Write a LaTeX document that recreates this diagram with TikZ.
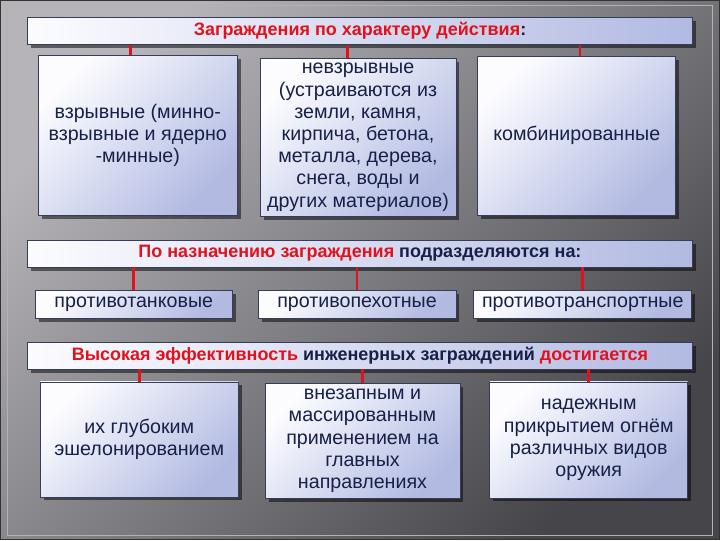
\documentclass[tikz,border=0pt]{standalone}
\usepackage{fontspec}
\setmainfont{Liberation Sans}
\usetikzlibrary{shadows}
\definecolor{fundal1}{RGB}{182,180,184}
\definecolor{fundal2}{RGB}{70,70,74}
\definecolor{cutie1}{RGB}{252,252,255}
\definecolor{cutie2}{RGB}{178,186,226}
\definecolor{scris}{RGB}{22,32,72}
\definecolor{rosu}{RGB}{226,18,28}

\begin{document}
\begin{tikzpicture}[x=0.025cm,y=-0.025cm,
  cutie/.style={draw=scris!70!gray,line width=0.5pt,
    top color=cutie1,bottom color=cutie2,shading angle=45,
    drop shadow={shadow xshift=2.5pt,shadow yshift=-2.5pt,opacity=0.5,fill=black},
    text=scris,align=center,inner sep=1pt,
    font=\fontsize{14}{15.8}\selectfont},
  titlu/.style={cutie,left color=cutie1,right color=cutie2,
    minimum width=16.65cm,minimum height=0.675cm,
    font=\bfseries\fontsize{12.8}{14}\selectfont},
  legatura/.style={rosu,line width=2pt}]
  % fundal
  \shade[top color=fundal1,bottom color=fundal2,shading angle=45] (0,0) rectangle (720,540);
  \draw[black!80,line width=0.6pt] (0,0) rectangle (720,540);
  \draw[gray!60!white,line width=0.4pt] (7,5) rectangle (713,535);

  % primul rand
  \node[titlu] (h1) at (360,30.5) {\textcolor{rosu}{Заграждения по характеру действия}:};
  \node[cutie,minimum width=4.975cm,minimum height=4cm] (a1) at (137.5,135)
    {взрывные (минно-\\взрывные и ядерно\\-минные)};
  \node[cutie,minimum width=4.9cm,minimum height=3.95cm] (a2) at (358,137)
    {невзрывные\\(устраиваются из\\земли, камня,\\кирпича, бетона,\\металла, дерева,\\снега, воды и\\других материалов)};
  \node[cutie,minimum width=4.95cm,minimum height=3.975cm] (a3) at (577,135.5)
    {комбинированные};

  % al doilea rand
  \node[titlu] (h2) at (360,253.5)
    {\textcolor{rosu}{По назначению заграждения} подразделяются на:};
  \node[cutie,minimum width=4.925cm,minimum height=0.7cm] (b1) at (133.5,304) {противотанковые};
  \node[cutie,minimum width=4.95cm,minimum height=0.7cm] (b2) at (357,304) {противопехотные};
  \node[cutie,minimum width=5.45cm,minimum height=0.7cm] (b3) at (583,304) {противотранспортные};

  % al treilea rand
  \node[titlu] (h3) at (360,355.5)
    {\textcolor{rosu}{Высокая эффективность} инженерных заграждений \textcolor{rosu}{достигается}};
  \node[cutie,minimum width=4.95cm,minimum height=2.875cm] (c1) at (139,439.5)
    {их глубоким\\эшелонированием};
  \node[cutie,minimum width=4.875cm,minimum height=2.875cm] (c2) at (362.5,441)
    {внезапным и\\массированным\\применением на\\главных\\направлениях};
  \node[cutie,minimum width=4.95cm,minimum height=2.9cm] (c3) at (589,440)
    {надежным\\прикрытием огнём\\различных видов\\оружия};

  % legaturi
  \draw[legatura] ([xshift=-0.19cm]a1.north) -- ([xshift=-0.19cm]a1.north |- h1.south);
  \draw[legatura] ([xshift=-0.27cm]a2.north) -- ([xshift=-0.27cm]a2.north |- h1.south);
  \draw[legatura] ([xshift=0.08cm]a3.north) -- ([xshift=0.08cm]a3.north |- h1.south);
  \foreach \n in {b1,b2,b3} \draw[legatura] (\n.north) -- (\n.north |- h2.south);
  \foreach \n in {c1,c2,c3} \draw[legatura] (\n.north) -- (\n.north |- h3.south);
\end{tikzpicture}
\end{document}
